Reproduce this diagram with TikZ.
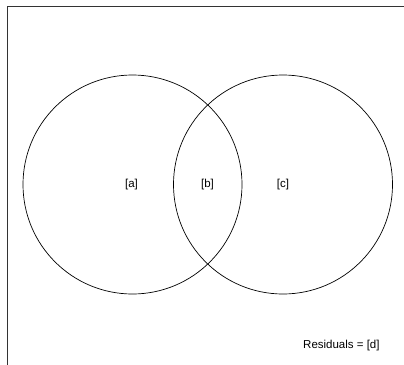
\documentclass[tikz,border=0pt]{standalone}
\usepackage{fontspec}
\setmainfont{Liberation Sans}
\begin{document}
\begin{tikzpicture}[x=1pt,y=-1pt,
    setcirc/.style={draw,circle,line width=0.7pt,minimum size=219pt,inner sep=0pt},
    lbl/.style={font=\fontsize{11.5}{13}\selectfont,inner sep=0pt}]
        % bounding box of the plot region
        \useasboundingbox (0,0) rectangle (404,364);
        \clip (0,0) rectangle (404,364);

        % frame, cut at the right and bottom
        \draw[line width=0.8pt,black!80] (7,380) -- (7,6) -- (420,6);

        % the two sets
        \node[setcirc] (setA) at (132.5,184.5) {};
        \node[setcirc] (setB) at (283,184.5) {};

        % fractions
        \node[lbl] (fa) at (131.5,185) {[a]};
        \node[lbl] (fb) at (207.5,185) {[b]};
        \node[lbl] (fc) at (283,185) {[c]};

        % residuals
        \node[lbl,anchor=west] (fd) at (303,346) {Residuals = [d]};
    \end{tikzpicture}
\end{document}
